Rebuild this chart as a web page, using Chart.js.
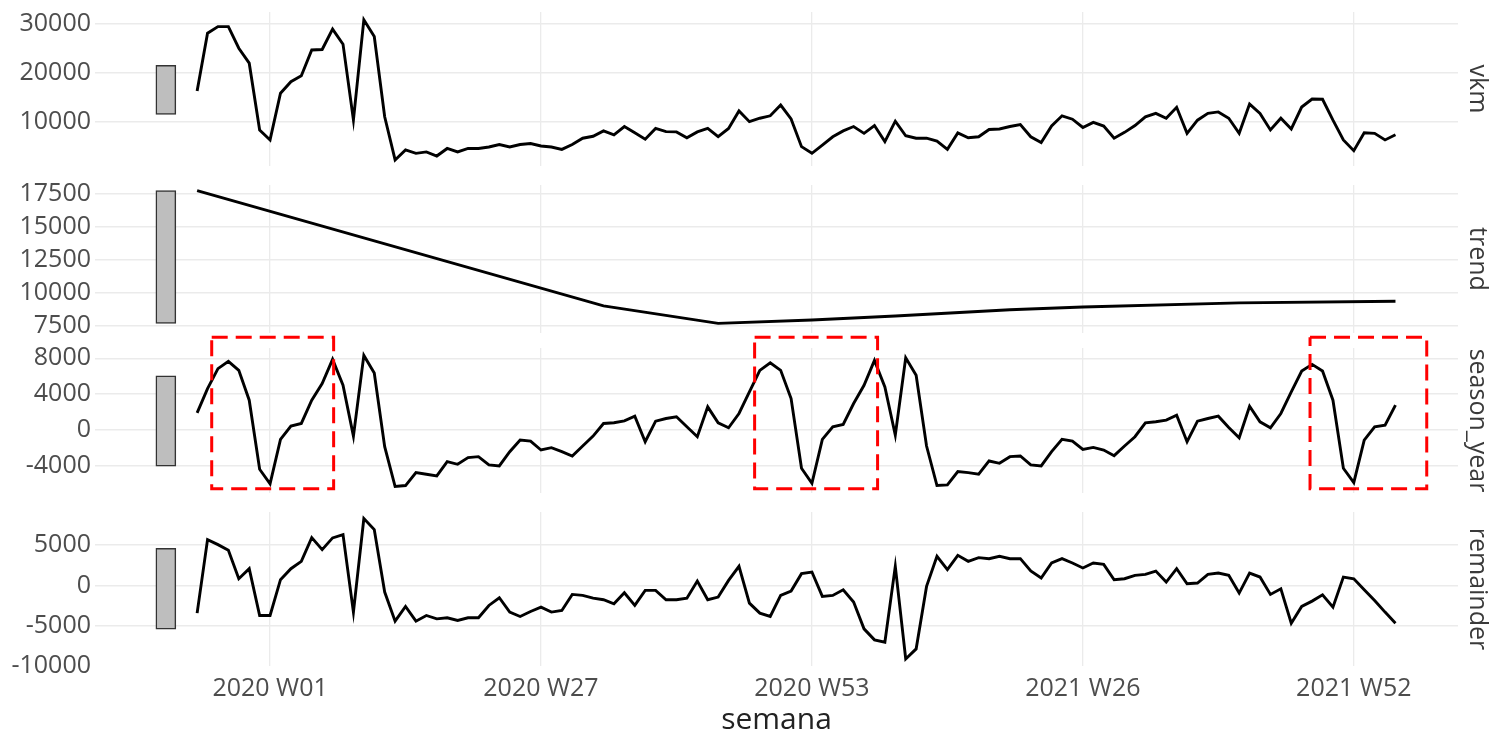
<!DOCTYPE html>
<html>
<head>
<meta charset="utf-8">
<script src="https://cdn.jsdelivr.net/npm/chart.js@4.4.1/dist/chart.umd.min.js"></script>
<style>
  html, body { margin: 0; padding: 0; background: #fff; }
  body { width: 1489px; height: 738px; position: relative; overflow: hidden; }
  .panel { position: absolute; left: 0; width: 1489px; }
</style>
</head>
<body>
<div class="panel" style="top:0;height:176px"><canvas id="vkmChart"></canvas></div>
<div class="panel" style="top:170px;height:173px"><canvas id="trendChart"></canvas></div>
<div class="panel" style="top:333px;height:170px"><canvas id="seasonChart"></canvas></div>
<div class="panel" style="top:497px;height:241px"><canvas id="remainderChart"></canvas></div>
<script>
// ===== DATA =====
// weekly labels, 2019 W46 .. 2022 W04
const weekLabels = [];
[[2019, 46, 52], [2020, 1, 53], [2021, 1, 52], [2022, 1, 4]].forEach(([yr, from, to]) => {
  for (let w = from; w <= to; w++) weekLabels.push(yr + " W" + String(w).padStart(2, "0"));
});

const xTickWeeks = ["2020 W01", "2020 W27", "2020 W53", "2021 W26", "2021 W52"];

const vkm = [
  16300, 28150, 29500, 29500, 25070, 22000, 8300, 6250, 15830, 18200,
  19400, 24700, 24800, 29000, 25900, 10350, 30900, 27450, 11000, 2140,
  4200, 3500, 3800, 2950, 4500, 3800, 4500, 4500, 4800, 5300,
  4800, 5300, 5500, 5000, 4800, 4300, 5300, 6600, 7000, 8100,
  7300, 9000, 7700, 6400, 8600, 7950, 7900, 6700, 7900, 8600,
  6900, 8600, 12200, 10000, 10700, 11200, 13400, 10550, 4870, 3500,
  5200, 6900, 8100, 9000, 7600, 9200, 5900, 10100, 7100, 6600,
  6600, 6000, 4330, 7700, 6700, 6900, 8400, 8500, 9000, 9400,
  6900, 5700, 9100, 11200, 10500, 8800, 9850, 9100, 6600, 7800,
  9200, 11000, 11700, 10700, 12950, 7600, 10300, 11700, 12000, 10700,
  7600, 13600, 11700, 8300, 10700, 8500, 13000, 14650, 14600, 10300,
  6250, 4050, 7700, 7600, 6250, 7300
];

// trend is piecewise linear: only its corners are read
const trendWeeks = ["2019 W46", "2020 W33", "2020 W44", "2020 W53", "2021 W08", "2021 W19", "2021 W26", "2021 W41", "2022 W04"];
const trendValues = [17750, 9020, 7700, 7950, 8260, 8730, 8940, 9250, 9380];

const seasonYear = [
  1925, 4630, 6845, 7660, 6660, 3330, -4370, -5995, -1035, 444,
  740, 3330, 5180, 7880, 4995, -666, 8325, 6365, -1850, -6290,
  -6180, -4735, -4920, -5106, -3515, -3810, -3070, -2960, -3885, -3996,
  -2405, -1110, -1220, -2220, -1960, -2405, -2886, -1776, -666, 740,
  814, 1036, 1554, -1295, 999, 1295, 1480, 370, -740, 2590,
  814, 259, 1850, 4255, 6660, 7510, 6660, 3515, -4255, -5920,
  -1035, 370, 629, 2960, 4995, 7770, 4810, -555, 8065, 6105,
  -1776, -6180, -6105, -4625, -4735, -4920, -3441, -3700, -2960, -2886,
  -3885, -3996, -2405, -1035, -1220, -2146, -1924, -2220, -2850, -1776,
  -740, 814, 925, 1110, 1665, -1295, 999, 1295, 1554, 296,
  -851, 2664, 925, 259, 1850, 4255, 6585, 7326, 6585, 3330,
  -4255, -5845, -1110, 370, 555, 2775
];

const remainder = [
  -3460, 5710, 5080, 4375, 830, 2080, -3750, -3750, 710, 2080,
  3000, 5960, 4460, 5920, 6330, -3330, 8330, 6960, -830, -4460,
  -2625, -4460, -3750, -4170, -4040, -4375, -4040, -4040, -2500, -1540,
  -3330, -3875, -3250, -2710, -3330, -3125, -1125, -1250, -1590, -1790,
  -2290, -920, -2500, -625, -625, -1790, -1790, -1590, 540, -1790,
  -1460, 625, 2375, -2210, -3460, -3875, -1250, -700, 1460, 1670,
  -1375, -1250, -540, -2080, -5420, -6790, -7080, 2375, -9170, -7920,
  -125, 3625, 1960, 3750, 3000, 3460, 3330, 3625, 3330, 3330,
  1790, 920, 2790, 3330, 2790, 2170, 2790, 2625, 710, 830,
  1250, 1375, 1790, 420, 2080, 210, 290, 1375, 1540, 1250,
  -960, 1540, 1040, -1125, -420, -4710, -2625, -1960, -1170, -2710,
  1040, 830, -540, -1875, -3330, -4710
];

// highlighted seasonal peaks (week position, value)
const boxStarts = [1.4, 53.5, 106.8];
const boxEnds = [13.1, 65.3, 118.0];
const boxLow = -6550;
const boxHigh = 10350;

// ===== LAYOUT =====
const FONT = "'Open Sans', 'Noto Sans', sans-serif";
const X_MIN = -9.8, X_MAX = 121.0;
const SCALE_BAR_X = -3;
const xTickIdx = xTickWeeks.map(w => weekLabels.indexOf(w));

const toPoints = (xs, ys) => ys.map((v, i) => ({ x: xs[i], y: v }));
const allIdx = weekLabels.map((w, i) => i);

// all scale bars show the same data length (the trend range)
const barLength = Math.max(...trendValues) - Math.min(...trendValues);
function scaleBar(values) {
  const mid = (Math.max(...values) + Math.min(...values)) / 2;
  return [mid - barLength / 2, mid + barLength / 2];
}

const stripLabel = {
  id: "stripLabel",
  afterDraw(chart, args, opts) {
    const { ctx, chartArea } = chart;
    ctx.save();
    ctx.translate(chartArea.right + 19, (chartArea.top + chartArea.bottom) / 2);
    ctx.rotate(Math.PI / 2);
    ctx.font = "25px " + FONT;
    ctx.fillStyle = "#3a3a3a";
    ctx.textAlign = "center";
    ctx.textBaseline = "middle";
    ctx.fillText(opts.text, 0, 0);
    ctx.restore();
  }
};

function makePanel(id, cfg) {
  const bottom = !!cfg.bottom;
  const datasets = [
    {
      type: "bar",
      data: [{ x: SCALE_BAR_X, y: scaleBar(cfg.barFrom) }],
      backgroundColor: "#bebebe",
      borderColor: "#333333",
      borderWidth: 1.5,
      borderSkipped: false,
      barThickness: 20,
      order: 3
    },
    {
      type: "line",
      data: cfg.points,
      borderColor: "#000000",
      borderWidth: 2.9,
      pointRadius: 0,
      tension: 0,
      fill: false,
      order: 1
    }
  ].concat(cfg.extra || []);

  return new Chart(document.getElementById(id), {
    type: "line",
    data: { datasets },
    plugins: [stripLabel],
    options: {
      responsive: true,
      maintainAspectRatio: false,
      animation: false,
      events: [],
      layout: { padding: { top: cfg.padTop, bottom: bottom ? 0 : 10, left: 0, right: 31 } },
      plugins: {
        legend: { display: false },
        tooltip: { enabled: false },
        stripLabel: { text: cfg.label }
      },
      scales: {
        x: {
          type: "linear",
          min: X_MIN,
          max: X_MAX,
          offset: false,
          grid: { color: "#ebebeb", lineWidth: 1.3, drawTicks: false, offset: false },
          border: { display: false },
          afterBuildTicks: s => { s.ticks = xTickIdx.map(v => ({ value: v })); },
          ticks: {
            display: bottom,
            autoSkip: false,
            maxRotation: 0,
            padding: 8,
            color: "#4d4d4d",
            font: { family: FONT, size: 25 },
            callback: v => weekLabels[v]
          },
          title: {
            display: bottom,
            text: "semana",
            color: "#222222",
            padding: 0,
            font: { family: FONT, size: 30 }
          },
          afterFit: s => {
            s.height = bottom ? 72 : 0;
            s.paddingLeft = 0; s.paddingRight = 0;
          }
        },
        y: {
          type: "linear",
          min: cfg.yMin,
          max: cfg.yMax,
          grid: {
            color: c => (c.tick && c.tick.value === cfg.yMin + cfg.hideBelow) ? "rgba(0,0,0,0)" : "#ebebeb",
            lineWidth: 1.6,
            drawTicks: false
          },
          border: { display: false },
          afterBuildTicks: s => { s.ticks = cfg.yTicks.map(v => ({ value: v })); },
          ticks: {
            padding: 4,
            color: "#4d4d4d",
            font: { family: FONT, size: 25 },
            callback: v => String(v)
          },
          afterFit: s => {
            s.width = 95;
            s.paddingTop = 0; s.paddingBottom = 0;
          }
        }
      }
    }
  });
}

// ===== PANELS =====
makePanel("vkmChart", {
  label: "vkm",
  points: toPoints(allIdx, vkm),
  barFrom: vkm,
  yMin: 900, yMax: 32500, hideBelow: -1,
  yTicks: [10000, 20000, 30000],
  padTop: 12
});

makePanel("trendChart", {
  label: "trend",
  points: toPoints(trendWeeks.map(w => weekLabels.indexOf(w)), trendValues),
  barFrom: trendValues,
  yMin: 6970, yMax: 18180, hideBelow: -1,
  yTicks: [7500, 10000, 12500, 15000, 17500],
  padTop: 15
});

const boxSets = boxStarts.map((x0, k) => ({
  type: "line",
  data: [
    { x: x0, y: boxHigh }, { x: boxEnds[k], y: boxHigh },
    { x: boxEnds[k], y: boxLow }, { x: x0, y: boxLow }, { x: x0, y: boxHigh }
  ],
  borderColor: "#ff0000",
  borderWidth: 3,
  borderDash: [16, 8],
  pointRadius: 0,
  tension: 0,
  fill: false,
  clip: false,
  order: 0
}));

makePanel("seasonChart", {
  label: "season_year",
  points: toPoints(allIdx, seasonYear),
  barFrom: seasonYear,
  yMin: -7010, yMax: 9150, hideBelow: -1,
  yTicks: [-4000, 0, 4000, 8000],
  padTop: 15,
  extra: boxSets
});

makePanel("remainderChart", {
  label: "remainder",
  points: toPoints(allIdx, remainder),
  barFrom: remainder,
  yMin: -10050, yMax: 9150, hideBelow: 50,
  yTicks: [-10000, -5000, 0, 5000],
  padTop: 15,
  bottom: true
});
</script>
</body>
</html>
